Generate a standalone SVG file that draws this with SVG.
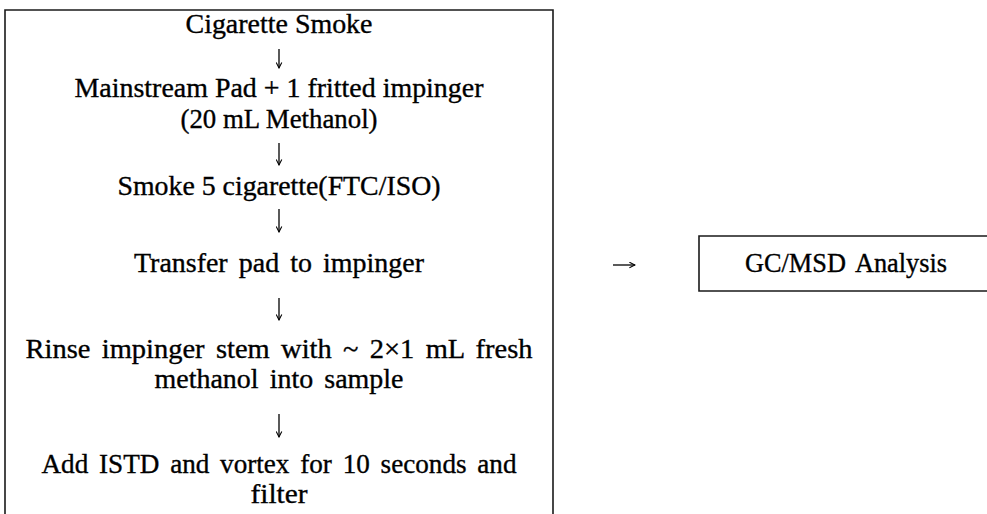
<svg xmlns="http://www.w3.org/2000/svg" width="987" height="514" viewBox="0 0 987 514">
<style>
.t{font-family:"Liberation Serif","Times New Roman",serif;font-size:27px;fill:#000;stroke:#000;stroke-width:0.35;text-anchor:middle}
.w{word-spacing:4px}
.frame{fill:none;stroke:#1a1a1a;stroke-width:1.6}
.arr{stroke:#000;stroke-width:1.3;fill:none;marker-end:url(#ah)}
</style>
<defs>
<marker id="ah" viewBox="0 0 10 10" refX="9" refY="5" markerWidth="7" markerHeight="7" markerUnits="userSpaceOnUse" orient="auto">
<path d="M1,1 L9,5 L1,9" fill="none" stroke="#000" stroke-width="1.5"/>
</marker>
</defs>
<rect width="987" height="514" fill="#fff"/>
<g id="procedure">
<path class="frame" d="M5,514 V10 H553 V514"/>
<text class="t" x="279" y="33" textLength="187" lengthAdjust="spacingAndGlyphs">Cigarette Smoke</text>
<text class="t" x="279" y="97" textLength="409" lengthAdjust="spacingAndGlyphs">Mainstream Pad + 1 fritted impinger</text>
<text class="t" x="279" y="128" textLength="197" lengthAdjust="spacingAndGlyphs">(20 mL Methanol)</text>
<text class="t" x="279" y="195" textLength="323" lengthAdjust="spacingAndGlyphs">Smoke 5 cigarette(FTC/ISO)</text>
<text class="t w" x="279" y="272" textLength="290" lengthAdjust="spacingAndGlyphs">Transfer pad to impinger</text>
<text class="t w" x="279" y="358" textLength="507" lengthAdjust="spacingAndGlyphs">Rinse impinger stem with ~ 2×1 mL fresh</text>
<text class="t w" x="279" y="388" textLength="249" lengthAdjust="spacingAndGlyphs">methanol into sample</text>
<text class="t w" x="279" y="473" textLength="475" lengthAdjust="spacingAndGlyphs">Add ISTD and vortex for 10 seconds and</text>
<text class="t" x="279" y="503" textLength="57" lengthAdjust="spacingAndGlyphs">filter</text>
</g>
<g id="gcmsd">
<path class="frame" d="M987,236 H699 V291 H987"/>
<text class="t w" x="846" y="272" textLength="202" lengthAdjust="spacingAndGlyphs">GC/MSD Analysis</text>
</g>
<g id="connectors">
<line class="arr" x1="279" y1="49" x2="279" y2="68"/>
<line class="arr" x1="279" y1="143" x2="279" y2="165"/>
<line class="arr" x1="279" y1="209" x2="279" y2="232"/>
<line class="arr" x1="279" y1="298" x2="279" y2="320"/>
<line class="arr" x1="279" y1="414" x2="279" y2="437"/>
<line class="arr" x1="613" y1="265" x2="635" y2="265"/>
</g>
</svg>
